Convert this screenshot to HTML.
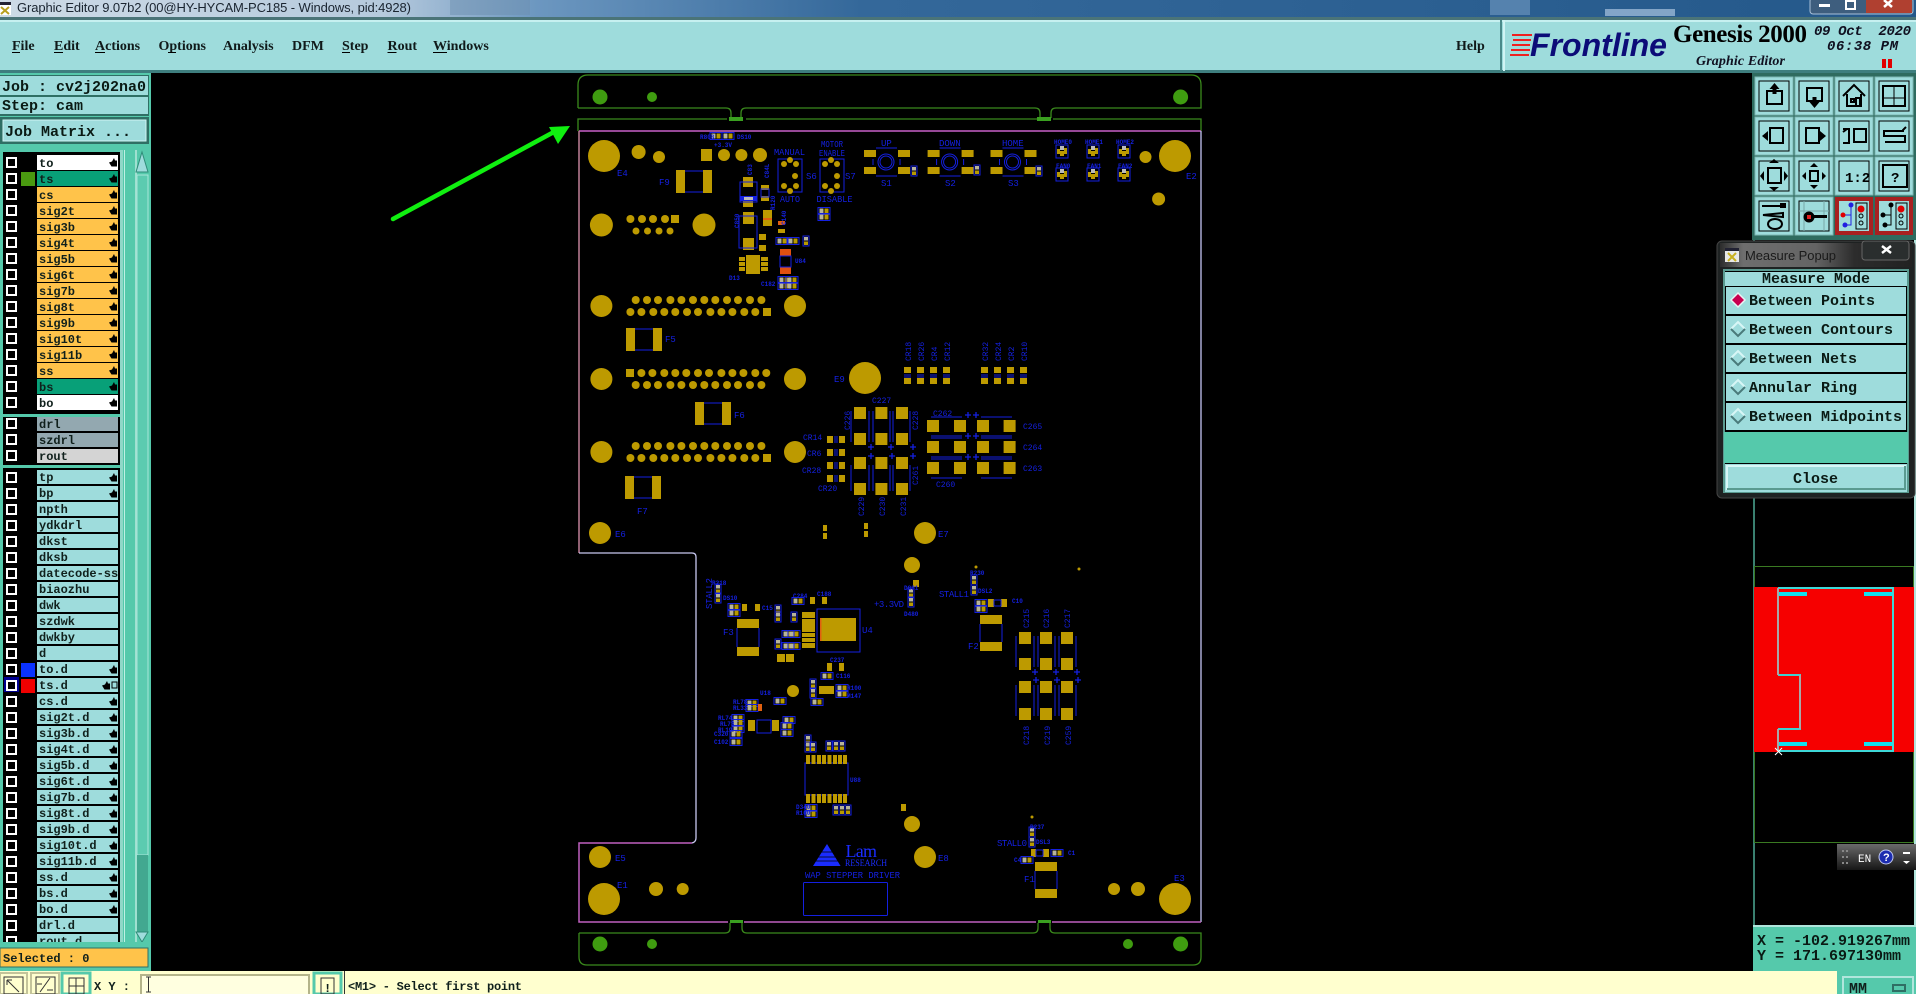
<!DOCTYPE html>
<html><head><meta charset="utf-8"><title>Graphic Editor</title>
<style>
html,body{margin:0;padding:0;background:#000;width:1916px;height:994px;overflow:hidden}
svg{display:block}
.m{font-family:"Liberation Mono",monospace;font-weight:bold;font-size:15px;fill:#0a1a14}
.l{font-family:"Liberation Mono",monospace;font-weight:bold;font-size:12px;fill:#10201c}
.s{font-family:"Liberation Serif",serif;font-weight:bold;font-size:14px;fill:#101a1a}
.b{font-family:"Liberation Mono",monospace;font-size:9px;fill:#1420e0}
.b8{font-size:8px}
.t{font-family:"Liberation Mono",monospace;font-size:6px;fill:#1420e0;font-weight:bold}
.g{fill:#bd9a00}
.o{fill:none;stroke:#3a8a1c;stroke-width:1.3}
.bl{fill:none;stroke:#1420e0;stroke-width:1}
.i{fill:none;stroke:#000;stroke-width:2}
.k{fill:#000}
</style></head><body>
<svg width="1916" height="994" viewBox="0 0 1916 994" xmlns="http://www.w3.org/2000/svg">
<defs>
<linearGradient id="tb" x1="0" x2="1" y1="0" y2="0"><stop offset="0" stop-color="#cddae6"/><stop offset=".2" stop-color="#b6cadd"/><stop offset=".28" stop-color="#6c97c0"/><stop offset=".45" stop-color="#34689a"/><stop offset="1" stop-color="#24588a"/></linearGradient>
<linearGradient id="pt" x1="0" x2="1" y1="0" y2="0"><stop offset="0" stop-color="#2c2c2c"/><stop offset=".12" stop-color="#6e6e6e"/><stop offset=".5" stop-color="#646464"/><stop offset=".7" stop-color="#2c2c2c"/><stop offset="1" stop-color="#222"/></linearGradient>
<linearGradient id="en" x1="0" x2="0" y1="0" y2="1"><stop offset="0" stop-color="#6a6a6a"/><stop offset="1" stop-color="#161616"/></linearGradient>
<g id="cb"><rect x="1" width="11" height="11" fill="#fff"/><rect x="3" y="2" width="7" height="7" fill="#000"/></g>
<path id="h" d="M0 4.5L3 3.5 5 0 6 2.5 8 2.5 8 8.5 2.5 8.5Z" fill="#000"/>
<g id="p"><rect x="-6" y="-3.5" width="12" height="7" class="bl"/><rect x="-4.5" y="-2.5" width="4" height="5" fill="#b8b49a"/><rect x=".5" y="-2.5" width="4" height="5" fill="#b89a00"/></g>
<g id="pv"><rect x="-3" y="-5" width="6" height="10" class="bl"/><rect x="-2" y="-4" width="4" height="3.5" fill="#b8b49a"/><rect x="-2" y=".5" width="4" height="3.5" fill="#b89a00"/></g>
<g id="sw"><rect x="-22" y="-12" width="12" height="7" class="g"/><rect x="12" y="-12" width="12" height="7" class="g"/><rect x="-22" y="5" width="12" height="7" class="g"/><rect x="12" y="5" width="12" height="7" class="g"/><circle r="8" class="bl"/><circle r="6" class="bl"/><path d="M-10-14H11M-10 14H11M-13-3V3M14-3V3" class="bl"/></g>
<g id="d1"><circle cx="635.7" r="4" class="g"/><circle cx="647" r="4" class="g"/><circle cx="658" r="4" class="g"/><circle cx="670.4" r="4" class="g"/><circle cx="681.4" r="4" class="g"/><circle cx="693" r="4" class="g"/><circle cx="704.3" r="4" class="g"/><circle cx="715.3" r="4" class="g"/><circle cx="727" r="4" class="g"/><circle cx="738" r="4" class="g"/><circle cx="750" r="4" class="g"/><circle cx="761.4" r="4" class="g"/></g>
<g id="d2"><circle cx="630.4" r="4" class="g"/><circle cx="641.4" r="4" class="g"/><circle cx="653.3" r="4" class="g"/><circle cx="664.3" r="4" class="g"/><circle cx="675.3" r="4" class="g"/><circle cx="687" r="4" class="g"/><circle cx="698" r="4" class="g"/><circle cx="710.4" r="4" class="g"/><circle cx="721.4" r="4" class="g"/><circle cx="732.4" r="4" class="g"/><circle cx="744.3" r="4" class="g"/><circle cx="755.3" r="4" class="g"/></g>
<rect id="cp" x="-6" y="-6" width="12" height="12" class="g"/>
<g id="q"><rect x="-2" y="-6" width="4" height="4" fill="#bbb"/><rect x="-2" y="-1" width="4" height="5" class="g"/><rect x="2" y="-4" width="3" height="6" fill="#b89a00"/><rect x="-5" y="-3" width="3" height="5" fill="#b89a00"/><rect x="-6" y="-7" width="12" height="13" class="bl" stroke-width=".5"/></g>
<g id="pl"><path d="M-3-2H3M0-5V1" stroke="#1420e0" stroke-width="1.3" fill="none"/></g>
</defs>

<rect width="1916" height="994" fill="#000"/>
<!-- title -->
<rect width="1916" height="17" fill="url(#tb)"/>
<rect x="450" y="0" width="80" height="15" fill="#6e8fb0" opacity=".5"/>
<rect x="1490" y="0" width="40" height="15" fill="#7fa5cc" opacity=".5"/><rect x="1605" y="9" width="70" height="7" fill="#a9c4e0" opacity=".7"/>
<rect x="0" y="2" width="11" height="13" fill="#fff"/><rect x="0" y="2" width="11" height="3" fill="#223"/><path d="M1 7L9 14M9 7L1 14" stroke="#b8a020" stroke-width="2"/>
<text x="17" y="12" font-family="Liberation Sans,sans-serif" font-size="13" fill="#1a2430" textLength="394">Graphic Editor 9.07b2 (00@HY-HYCAM-PC185 - Windows, pid:4928)</text>
<rect x="1810" y="-2" width="103" height="16" rx="3" fill="#3e5e7e" stroke="#a8c0d8"/><rect x="1866" y="-1" width="46" height="14" fill="#b04030"/>
<rect x="1819" y="4" width="11" height="3" fill="#fff"/><rect x="1846" y="1" width="9" height="8" fill="none" stroke="#fff" stroke-width="2"/><path d="M1884 0L1892 7M1892 0L1884 7" stroke="#fff" stroke-width="2.5"/>
<!-- menu -->
<rect y="17" width="1916" height="3" fill="#4a7478"/>
<rect y="20" width="1916" height="51" fill="#9edcdc"/>
<rect y="20" width="1916" height="2" fill="#c6f0f0"/>
<rect y="70" width="1916" height="3" fill="#3e7e7e"/>
<text class="s" x="12" y="50">File</text><rect x="12" y="52" width="8" height="1" fill="#000"/>
<text class="s" x="54" y="50">Edit</text><rect x="54" y="52" width="9" height="1" fill="#000"/>
<text class="s" x="95" y="50">Actions</text><rect x="95" y="52" width="10" height="1" fill="#000"/>
<text class="s" x="158.5" y="50">Options</text><rect x="168" y="52" width="8" height="1" fill="#000"/>
<text class="s" x="223" y="50">Analysis</text>
<text class="s" x="292" y="50">DFM</text>
<text class="s" x="342" y="50">Step</text><rect x="342" y="52" width="8" height="1" fill="#000"/>
<text class="s" x="387.5" y="50">Rout</text><rect x="387.5" y="52" width="9" height="1" fill="#000"/>
<text class="s" x="433" y="50">Windows</text><rect x="433" y="52" width="14" height="1" fill="#000"/>
<text class="s" x="1456" y="50">Help</text>
<rect x="1500" y="20" width="2" height="51" fill="#4a8a8a"/><rect x="1503" y="20" width="2" height="51" fill="#d0f4f4"/>
<!-- logo -->
<path d="M1512 35h20M1513 40h18M1512 45h18M1511 50h19M1510 55h19" stroke="#ee2020" stroke-width="2"/>
<text x="1530" y="56" font-family="Liberation Sans,sans-serif" font-style="italic" font-weight="bold" font-size="32" fill="#0c0c78" textLength="137" lengthAdjust="spacingAndGlyphs">Frontline</text>
<text x="1673" y="42" font-family="Liberation Serif,serif" font-weight="bold" font-size="25" fill="#000" textLength="134">Genesis 2000</text>
<text x="1696" y="65" font-family="Liberation Serif,serif" font-weight="bold" font-style="italic" font-size="14" fill="#101020" textLength="89">Graphic Editor</text>
<text x="1814" y="35" font-family="Liberation Mono,monospace" font-style="italic" font-weight="bold" font-size="14" fill="#101020" xml:space="preserve" textLength="97">09 Oct  2020</text>
<text x="1827" y="50" font-family="Liberation Mono,monospace" font-style="italic" font-weight="bold" font-size="14" fill="#101020" textLength="71">06:38 PM</text>
<rect x="1882" y="59" width="4" height="9" fill="#e00000"/><rect x="1888" y="59" width="4" height="9" fill="#e00000"/>

<!-- left panel -->
<rect x="0" y="73" width="151" height="899" fill="#55c9ab"/>
<rect x="0" y="75" width="149" height="21" fill="#2f6f64"/><rect x="0" y="76" width="148" height="19" fill="#9edcdc"/>
<rect x="0" y="96" width="149" height="20" fill="#2f6f64"/><rect x="0" y="97" width="148" height="17" fill="#9edcdc"/>
<rect x="0" y="117" width="149" height="27" fill="#2f6f64"/><rect x="3" y="120" width="143" height="21" fill="#9edcdc" stroke="#d0f4f4"/>
<text class="m" x="2" y="91">Job : cv2j202na0</text>
<text class="m" x="2" y="110">Step: cam</text>
<text class="m" x="5" y="136">Job Matrix ...</text>
<rect x="0" y="144" width="151" height="8" fill="#55c9ab"/>
<rect x="3" y="152" width="117" height="790" fill="#000"/>
<rect x="120" y="150" width="3" height="792" fill="#8fd8c8"/>
<rect x="124" y="150" width="1" height="792" fill="#c0f0e4"/>
<rect x="125" y="150" width="10" height="792" fill="#55c9ab"/>
<rect x="135" y="150" width="2" height="792" fill="#9fe0d0"/>
<rect x="137" y="150" width="11" height="792" fill="#55c9ab"/>
<rect x="137" y="175" width="11" height="680" fill="#5ccbb0" stroke="#a8e6da"/>
<rect x="137" y="855" width="11" height="78" fill="#42a890"/>
<path d="M142 152L148 172H136Z" fill="#9edcdc" stroke="#2f8c78"/><path d="M142 942L148 932H136Z" fill="#9edcdc" stroke="#2f8c78"/>
<rect x="3" y="414" width="117" height="3" fill="#55c9ab"/><rect x="3" y="465" width="117" height="3" fill="#55c9ab"/>

<!-- rows group 1 -->
<g fill="#ffc34a">
<rect x="37" y="155" width="81" height="15" fill="#fff"/><rect x="37" y="171" width="81" height="15" fill="#08a078"/>
<rect x="37" y="187" width="81" height="15"/><rect x="37" y="203" width="81" height="15"/><rect x="37" y="219" width="81" height="15"/><rect x="37" y="235" width="81" height="15"/><rect x="37" y="251" width="81" height="15"/><rect x="37" y="267" width="81" height="15"/><rect x="37" y="283" width="81" height="15"/><rect x="37" y="299" width="81" height="15"/><rect x="37" y="315" width="81" height="15"/><rect x="37" y="331" width="81" height="15"/><rect x="37" y="347" width="81" height="15"/><rect x="37" y="363" width="81" height="15"/>
<rect x="37" y="379" width="81" height="15" fill="#08a078"/><rect x="37" y="395" width="81" height="15" fill="#fff"/>
<rect x="37" y="417" width="81" height="14" fill="#93a8b0"/><rect x="37" y="433" width="81" height="14" fill="#93a8b0"/><rect x="37" y="449" width="81" height="14" fill="#d4d4d4"/>
</g>
<rect x="21" y="172" width="14" height="14" fill="#4a9a10"/>
<g class="l">
<text x="39" y="167">to</text><text x="39" y="183">ts</text><text x="39" y="199">cs</text><text x="39" y="215">sig2t</text><text x="39" y="231">sig3b</text><text x="39" y="247">sig4t</text><text x="39" y="263">sig5b</text><text x="39" y="279">sig6t</text><text x="39" y="295">sig7b</text><text x="39" y="311">sig8t</text><text x="39" y="327">sig9b</text><text x="39" y="343">sig10t</text><text x="39" y="359">sig11b</text><text x="39" y="375">ss</text><text x="39" y="391">bs</text><text x="39" y="407">bo</text>
<text x="39" y="428">drl</text><text x="39" y="444">szdrl</text><text x="39" y="460">rout</text>
</g>
<use href="#cb" x="5" y="157"/><use href="#cb" x="5" y="173"/><use href="#cb" x="5" y="189"/><use href="#cb" x="5" y="205"/><use href="#cb" x="5" y="221"/><use href="#cb" x="5" y="237"/><use href="#cb" x="5" y="253"/><use href="#cb" x="5" y="269"/><use href="#cb" x="5" y="285"/><use href="#cb" x="5" y="301"/><use href="#cb" x="5" y="317"/><use href="#cb" x="5" y="333"/><use href="#cb" x="5" y="349"/><use href="#cb" x="5" y="365"/><use href="#cb" x="5" y="381"/><use href="#cb" x="5" y="397"/>
<use href="#cb" x="5" y="418"/><use href="#cb" x="5" y="434"/><use href="#cb" x="5" y="450"/>
<use href="#h" x="109" y="158"/><use href="#h" x="109" y="174"/><use href="#h" x="109" y="190"/><use href="#h" x="109" y="206"/><use href="#h" x="109" y="222"/><use href="#h" x="109" y="238"/><use href="#h" x="109" y="254"/><use href="#h" x="109" y="270"/><use href="#h" x="109" y="286"/><use href="#h" x="109" y="302"/><use href="#h" x="109" y="318"/><use href="#h" x="109" y="334"/><use href="#h" x="109" y="350"/><use href="#h" x="109" y="366"/><use href="#h" x="109" y="382"/><use href="#h" x="109" y="398"/>

<!-- rows group 2 -->
<svg x="0" y="468" width="120" height="474" viewBox="0 468 120 474" overflow="hidden">
<g fill="#9edcdc">
<rect x="37" y="470" width="81" height="14"/><rect x="37" y="486" width="81" height="14"/><rect x="37" y="502" width="81" height="14"/><rect x="37" y="518" width="81" height="14"/><rect x="37" y="534" width="81" height="14"/><rect x="37" y="550" width="81" height="14"/><rect x="37" y="566" width="81" height="14"/><rect x="37" y="582" width="81" height="14"/><rect x="37" y="598" width="81" height="14"/><rect x="37" y="614" width="81" height="14"/><rect x="37" y="630" width="81" height="14"/><rect x="37" y="646" width="81" height="14"/><rect x="37" y="662" width="81" height="14"/><rect x="37" y="678" width="81" height="14"/><rect x="37" y="694" width="81" height="14"/><rect x="37" y="710" width="81" height="14"/><rect x="37" y="726" width="81" height="14"/><rect x="37" y="742" width="81" height="14"/><rect x="37" y="758" width="81" height="14"/><rect x="37" y="774" width="81" height="14"/><rect x="37" y="790" width="81" height="14"/><rect x="37" y="806" width="81" height="14"/><rect x="37" y="822" width="81" height="14"/><rect x="37" y="838" width="81" height="14"/><rect x="37" y="854" width="81" height="14"/><rect x="37" y="870" width="81" height="14"/><rect x="37" y="886" width="81" height="14"/><rect x="37" y="902" width="81" height="14"/><rect x="37" y="918" width="81" height="14"/><rect x="37" y="934" width="81" height="14"/>
</g>
<rect x="21" y="663" width="14" height="14" fill="#0a32ff"/><rect x="21" y="679" width="14" height="14" fill="#f00000"/>
<rect x="4" y="677" width="15" height="15" fill="#000090"/>
<g class="l">
<text x="39" y="481">tp</text><text x="39" y="497">bp</text><text x="39" y="513">npth</text><text x="39" y="529">ydkdrl</text><text x="39" y="545">dkst</text><text x="39" y="561">dksb</text><text x="39" y="577">datecode-ss</text><text x="39" y="593">biaozhu</text><text x="39" y="609">dwk</text><text x="39" y="625">szdwk</text><text x="39" y="641">dwkby</text><text x="39" y="657">d</text><text x="39" y="673">to.d</text><text x="39" y="689">ts.d</text><text x="39" y="705">cs.d</text><text x="39" y="721">sig2t.d</text><text x="39" y="737">sig3b.d</text><text x="39" y="753">sig4t.d</text><text x="39" y="769">sig5b.d</text><text x="39" y="785">sig6t.d</text><text x="39" y="801">sig7b.d</text><text x="39" y="817">sig8t.d</text><text x="39" y="833">sig9b.d</text><text x="39" y="849">sig10t.d</text><text x="39" y="865">sig11b.d</text><text x="39" y="881">ss.d</text><text x="39" y="897">bs.d</text><text x="39" y="913">bo.d</text><text x="39" y="929">drl.d</text><text x="39" y="945">rout.d</text>
</g>
<use href="#cb" x="5" y="472"/><use href="#cb" x="5" y="488"/><use href="#cb" x="5" y="504"/><use href="#cb" x="5" y="520"/><use href="#cb" x="5" y="536"/><use href="#cb" x="5" y="552"/><use href="#cb" x="5" y="568"/><use href="#cb" x="5" y="584"/><use href="#cb" x="5" y="600"/><use href="#cb" x="5" y="616"/><use href="#cb" x="5" y="632"/><use href="#cb" x="5" y="648"/><use href="#cb" x="5" y="664"/><use href="#cb" x="5" y="680"/><use href="#cb" x="5" y="696"/><use href="#cb" x="5" y="712"/><use href="#cb" x="5" y="728"/><use href="#cb" x="5" y="744"/><use href="#cb" x="5" y="760"/><use href="#cb" x="5" y="776"/><use href="#cb" x="5" y="792"/><use href="#cb" x="5" y="808"/><use href="#cb" x="5" y="824"/><use href="#cb" x="5" y="840"/><use href="#cb" x="5" y="856"/><use href="#cb" x="5" y="872"/><use href="#cb" x="5" y="888"/><use href="#cb" x="5" y="904"/><use href="#cb" x="5" y="920"/><use href="#cb" x="5" y="936"/>
<use href="#h" x="109" y="473"/><use href="#h" x="109" y="489"/><use href="#h" x="109" y="665"/><use href="#h" x="102" y="681"/><rect x="112" y="682" width="5" height="6" fill="none" stroke="#000"/><use href="#h" x="109" y="697"/><use href="#h" x="109" y="713"/><use href="#h" x="109" y="729"/><use href="#h" x="109" y="745"/><use href="#h" x="109" y="761"/><use href="#h" x="109" y="777"/><use href="#h" x="109" y="793"/><use href="#h" x="109" y="809"/><use href="#h" x="109" y="825"/><use href="#h" x="109" y="841"/><use href="#h" x="109" y="857"/><use href="#h" x="109" y="873"/><use href="#h" x="109" y="889"/><use href="#h" x="109" y="905"/>
</svg>
<rect x="0" y="942" width="151" height="29" fill="#55c9ab"/>
<rect x="0" y="948" width="148" height="19" fill="#ffc34a" stroke="#2f6f64"/>
<text class="l" x="3" y="962">Selected : 0</text>
<rect x="0" y="971" width="1838" height="23" fill="#ffffcf"/>

<!-- bottom toolbar -->
<rect x="0" y="973" width="27" height="21" fill="#ffffcf" stroke="#c4c49a" stroke-width="2"/><rect x="4" y="977" width="19" height="17" fill="none" stroke="#333"/><path d="M7 980L19 992M7 980h5M7 980v5" stroke="#333" fill="none"/>
<rect x="31" y="973" width="28" height="21" fill="#ffffcf" stroke="#c4c49a" stroke-width="2"/><rect x="36" y="977" width="19" height="17" fill="none" stroke="#333"/><path d="M40 992L50 978M42 984h-5M47 990h6" stroke="#333" fill="none"/>
<rect x="62" y="973" width="28" height="21" fill="#ffffcf" stroke="#55c9ab" stroke-width="3"/><rect x="69" y="978" width="15" height="16" fill="none" stroke="#333"/><path d="M69 986h15M76 978v16" stroke="#333"/>
<text class="l" x="94" y="990" xml:space="preserve">X Y :</text>
<rect x="141" y="975" width="168" height="20" fill="#ffffe0" stroke="#b4b48a" stroke-width="2"/><path d="M146 977h5M148.500 977v15M146 992h5" stroke="#333" fill="none"/>
<rect x="314" y="973" width="27" height="21" fill="#ffffcf" stroke="#55c9ab" stroke-width="3"/><rect x="321" y="978" width="13" height="16" fill="none" stroke="#333"/><text class="l" x="324" y="992">!</text>
<rect x="344" y="971" width="1" height="23" fill="#333"/>
<text class="l" x="348" y="990" textLength="174">&lt;M1&gt; - Select first point</text>

<!-- right bottom -->
<rect x="1837" y="971" width="79" height="23" fill="#55c9ab"/><rect x="1843" y="977" width="70" height="20" fill="#55c9ab" stroke="#b0e6dc" stroke-width="2"/>
<text class="l" x="1849" y="993" style="font-size:15px">MM</text><rect x="1893" y="985" width="12" height="6" fill="#55c9ab" stroke="#2f6f64" stroke-width="2"/>
<rect x="1753" y="73" width="2" height="852" fill="#3a8070"/><rect x="1914" y="240" width="2" height="731" fill="#b0e4dc"/>
<rect x="1753" y="925" width="163" height="46" fill="#55c9ab"/><rect x="1753" y="925" width="163" height="2" fill="#b0e6dc"/>
<text class="m" x="1757" y="945">X = -102.919267mm</text>
<text class="m" x="1757" y="960">Y = 171.697130mm</text>

<!-- preview -->
<rect x="1754.500" y="566.500" width="159" height="276" fill="none" stroke="#3a7a22"/>
<rect x="1754" y="587" width="160" height="165" fill="#f60000"/>
<path d="M1778 675H1800V729H1778" fill="none" stroke="#3ed0d0" stroke-width="2"/>
<path d="M1778 588H1893V751H1778" fill="none" stroke="#3ed8d8" stroke-width="2"/>
<path d="M1778 588V675M1800 675V729M1778 729V750" stroke="#a8a8a8" stroke-width="2" fill="none"/>
<rect x="1779" y="592" width="28" height="4" fill="#10e0f0"/><rect x="1864" y="592" width="28" height="4" fill="#10e0f0"/><rect x="1779" y="742" width="28" height="4" fill="#10e0f0"/><rect x="1864" y="742" width="28" height="4" fill="#10e0f0"/>
<path d="M1775 748L1782 755M1782 748L1775 755" stroke="#fff"/>
<rect x="1837" y="844" width="79" height="26" fill="url(#en)"/>
<g fill="#888"><rect x="1842" y="850" width="2" height="2"/><rect x="1846" y="850" width="2" height="2"/><rect x="1842" y="856" width="2" height="2"/><rect x="1846" y="856" width="2" height="2"/><rect x="1842" y="862" width="2" height="2"/><rect x="1846" y="862" width="2" height="2"/></g>
<text x="1858" y="862" font-family="Liberation Mono,monospace" font-size="11" fill="#fff">EN</text>
<circle cx="1886" cy="857" r="7" fill="#1c2cb0" stroke="#c0c8f0"/><text x="1883" y="861" font-family="Liberation Sans,sans-serif" font-size="11" font-weight="bold" fill="#fff">?</text>
<rect x="1903" y="852" width="7" height="2" fill="#fff"/><path d="M1903 861h7l-3.500 3z" fill="#fff"/>

<!-- toolbar -->
<rect x="1752" y="73" width="164" height="167" fill="#2f6b5f"/>
<g fill="#9edcdc" stroke="#7fb8b4">
<rect x="1755" y="77" width="38" height="38"/><rect x="1795" y="77" width="38" height="38"/><rect x="1835" y="77" width="38" height="38"/><rect x="1875" y="77" width="38" height="38"/>
<rect x="1755" y="117" width="38" height="38"/><rect x="1795" y="117" width="38" height="38"/><rect x="1835" y="117" width="38" height="38"/><rect x="1875" y="117" width="38" height="38"/>
<rect x="1755" y="157" width="38" height="38"/><rect x="1795" y="157" width="38" height="38"/><rect x="1835" y="157" width="38" height="38"/><rect x="1875" y="157" width="38" height="38"/>
<rect x="1755" y="197" width="38" height="38"/><rect x="1795" y="197" width="38" height="38"/>
</g>
<rect x="1835" y="197" width="38" height="38" fill="#a82020"/><rect x="1875" y="197" width="38" height="38" fill="#a82020"/>
<g fill="none" stroke="#000">
<rect x="1759" y="81" width="30" height="30"/><rect x="1799" y="81" width="30" height="30"/><rect x="1839" y="81" width="30" height="30"/><rect x="1879" y="81" width="30" height="30"/>
<rect x="1759" y="121" width="30" height="30"/><rect x="1799" y="121" width="30" height="30"/><rect x="1839" y="121" width="30" height="30"/><rect x="1879" y="121" width="30" height="30"/>
<rect x="1759" y="161" width="30" height="30"/><rect x="1799" y="161" width="30" height="30"/><rect x="1839" y="161" width="30" height="30"/><rect x="1879" y="161" width="30" height="30"/>
<rect x="1759" y="201" width="30" height="30"/><rect x="1799" y="201" width="30" height="30"/>
</g>
<rect x="1767" y="91" width="15" height="13" class="i"/><path d="M1774.500 83l5 6h-3v5h-4v-5h-3z" class="k"/>
<rect x="1807" y="88" width="15" height="13" class="i"/><path d="M1814.500 108l-5-6h3v-5h4v5h3z" class="k"/>
<path d="M1843 96l11-11 11 11M1847 94v12h14V94" class="i" stroke-width="1.5"/><rect x="1851" y="99" width="3" height="3" class="i" stroke-width="1"/><rect x="1856" y="98" width="4" height="8" class="i" stroke-width="1"/>
<rect x="1883" y="86" width="22" height="20" class="i"/><path d="M1883 98h22M1894 86v20" stroke="#000"/>
<rect x="1770" y="128" width="13" height="15" class="i"/><path d="M1762 136l6-5v10z" class="k"/>
<rect x="1806" y="128" width="13" height="15" class="i"/><path d="M1826 136l-6-5v10z" class="k"/>
<rect x="1854" y="129" width="12" height="13" class="i"/><path d="M1843 129h6v14h-6M1847 129l-4 3" class="i"/>
<path d="M1906 127l-3 3v1h-19v5h21v6h-20" class="i" stroke-width="1.500" fill="none"/>
<rect x="1768" y="168" width="13" height="15" class="i"/><path d="M1774 159l-5 4h10zM1774 191l-5-4h10zM1760 176l4-5v10zM1788 176l-4-5v10z" class="k"/>
<rect x="1810" y="171" width="8" height="10" class="i"/><path d="M1814 163l-4 4h8zM1814 189l-4-4h8zM1802 176l4-4v8zM1826 176l-4-4v8z" class="k"/>
<text x="1845" y="182" font-family="Liberation Mono,monospace" font-weight="bold" font-size="14" fill="#000">1:2</text>
<rect x="1883" y="165" width="24" height="22" class="i"/><text x="1891" y="182" font-family="Liberation Mono,monospace" font-weight="bold" font-size="14" fill="#000">?</text>
<path d="M1762 206h22M1763 215l20-2v4z" class="i" stroke-width="1.500"/><ellipse cx="1775" cy="224" rx="7" ry="5" class="i" stroke-width="1"/><rect x="1780" y="203" width="6" height="5" class="k"/>
<path d="M1804 201v30M1824 201v30M1799 211h30" stroke="#78a8a8"/><circle cx="1809" cy="217" r="5.500" class="k"/><rect x="1807" y="215" width="4" height="4" fill="#e02020"/><rect x="1814" y="215" width="13" height="3" class="k"/>
<rect x="1839" y="201" width="30" height="30" fill="#9edcdc"/><rect x="1879" y="201" width="30" height="30" fill="#9edcdc"/>
<rect x="1856" y="203" width="11" height="26" fill="none" stroke="#000"/><circle cx="1861" cy="209" r="3.500" fill="#e00000"/><circle cx="1861" cy="216" r="2" fill="none" stroke="#000"/><circle cx="1861" cy="223" r="2" fill="none" stroke="#000"/>
<path d="M1851 204V225H1846M1843 215H1851" stroke="#2020e0" fill="none"/><circle cx="1851" cy="205" r="2.500" fill="#2020e0"/><circle cx="1845" cy="225" r="2.500" fill="#2020e0"/><circle cx="1843" cy="215" r="2.500" fill="#e00000"/>
<rect x="1896" y="203" width="11" height="26" fill="none" stroke="#000"/><circle cx="1901" cy="209" r="3.500" fill="#e00000"/><circle cx="1901" cy="216" r="2" fill="none" stroke="#000"/><circle cx="1901" cy="223" r="2" fill="none" stroke="#000"/>
<path d="M1891 204V225H1886M1883 215H1891" stroke="#000" fill="none"/><circle cx="1891" cy="205" r="2.500"/><circle cx="1885" cy="225" r="2.500"/><circle cx="1883" cy="215" r="2.500"/>

<!-- popup -->
<rect x="1717" y="241" width="198" height="257" rx="5" fill="#1e2222" stroke="#444"/>
<rect x="1720" y="243" width="192" height="24" fill="url(#pt)"/>
<rect x="1725" y="248" width="14" height="14" fill="#e8e8e8"/><rect x="1725" y="248" width="14" height="3" fill="#223"/><path d="M1728 253L1736 261M1736 253L1728 261" stroke="#c8b020" stroke-width="2"/>
<text x="1745" y="260" font-family="Liberation Sans,sans-serif" font-size="13" fill="#1a1a1a" textLength="91">Measure Popup</text>
<rect x="1862" y="241" width="47" height="19" rx="3" fill="#2a2e2e" stroke="#666"/>
<path d="M1882 246L1891 253M1891 246L1882 253" stroke="#fff" stroke-width="2.500"/>
<rect x="1723" y="269" width="186" height="224" fill="#5a9a90"/>
<rect x="1725" y="271" width="182" height="221" fill="#000"/>
<rect x="1725" y="272" width="182" height="14" fill="#9edcdc"/>
<text class="m" x="1762" y="283">Measure Mode</text>
<g fill="#9edcdc"><rect x="1726" y="287" width="180" height="27"/><rect x="1726" y="316" width="180" height="27"/><rect x="1726" y="345" width="180" height="27"/><rect x="1726" y="374" width="180" height="27"/><rect x="1726" y="403" width="180" height="27"/></g>
<rect x="1724" y="432" width="184" height="31" fill="#55c9ab"/>
<rect x="1725" y="464" width="182" height="28" fill="#9edcdc"/>
<rect x="1727" y="466" width="178" height="23" fill="#9edcdc" stroke="#d8f6f6" stroke-width="2"/>
<path d="M1905 466v23h-178" stroke="#5a9a90" stroke-width="2" fill="none"/>
<path d="M1738 293l7 7-7 7-7-7z" fill="#c80050" stroke="#e8f4f4" stroke-width="1.500"/>
<g fill="none" stroke-width="2"><path d="M1731 329l7-7 7 7" stroke="#d8f6f6"/><path d="M1731 329l7 7 7-7" stroke="#4a7a7a"/><path d="M1731 358l7-7 7 7" stroke="#d8f6f6"/><path d="M1731 358l7 7 7-7" stroke="#4a7a7a"/><path d="M1731 387l7-7 7 7" stroke="#d8f6f6"/><path d="M1731 387l7 7 7-7" stroke="#4a7a7a"/><path d="M1731 416l7-7 7 7" stroke="#d8f6f6"/><path d="M1731 416l7 7 7-7" stroke="#4a7a7a"/></g>
<text class="m" x="1749" y="305">Between Points</text>
<text class="m" x="1749" y="334">Between Contours</text>
<text class="m" x="1749" y="363">Between Nets</text>
<text class="m" x="1749" y="392">Annular Ring</text>
<text class="m" x="1749" y="421">Between Midpoints</text>
<text class="m" x="1793" y="483">Close</text>

<!-- PCB outlines -->
<g class="o">
<path d="M578 108V85Q578 75 588 75H1191Q1201 75 1201 85V108H1056Q1051 108 1051 113V118M1040 118V113Q1040 108 1035 108H746Q741 108 741 113V118M731 118V113Q731 108 726 108H578"/>
<path d="M578 131V119H727M746 119H1037M1053 119H1201V131"/>
<path d="M579 933H725Q730 933 730 928V923M742 923V928Q742 933 747 933H1033Q1038 933 1038 928V923M1050 923V928Q1050 933 1055 933H1201V957Q1201 965 1193 965H587Q579 965 579 957V933"/>
</g>
<rect x="729" y="117" width="14" height="4" fill="#3aa020"/><rect x="1037" y="117" width="14" height="4" fill="#3aa020"/>
<rect x="730" y="920" width="13" height="3" fill="#3aa020"/><rect x="1038" y="920" width="13" height="3" fill="#3aa020"/>
<circle cx="600" cy="97" r="7.500" fill="#3f9c10"/><circle cx="652" cy="97" r="5" fill="#3f9c10"/><circle cx="1180.600" cy="97" r="7.500" fill="#3f9c10"/>
<circle cx="600" cy="944" r="7.500" fill="#3f9c10"/><circle cx="652" cy="944" r="5" fill="#3f9c10"/><circle cx="1128" cy="944" r="5" fill="#3f9c10"/><circle cx="1180.600" cy="944" r="7.500" fill="#3f9c10"/>
<path d="M579 131H1201" stroke="#c860c8" stroke-width="1.500" fill="none"/>
<path d="M1201 131V922" stroke="#c4c4f4" stroke-width="1.300" fill="none"/>
<path d="M579 131V553" stroke="#c08098" stroke-width="1.500" fill="none"/>
<path d="M579 553H692Q696 553 696 557V838Q696 842 692 843" stroke="#c8c8f0" stroke-width="1.300" fill="none"/>
<path d="M692 843H579V922H728M744 922H1036M1052 922H1201" stroke="#c060c0" stroke-width="1.500" fill="none"/>

<!-- arrow -->
<path d="M393 219L552 133" stroke="#10f010" stroke-width="4.500" stroke-linecap="round"/>
<path d="M570 126L549 127 558 144Z" fill="#10f010"/>

<!-- big pads -->
<g class="g">
<circle cx="604" cy="156" r="16"/><circle cx="638.600" cy="152" r="7"/><circle cx="659" cy="157" r="6"/><rect x="701" y="149" width="11" height="12"/><circle cx="724" cy="155" r="6"/><circle cx="741.400" cy="155" r="6"/><circle cx="760" cy="155" r="7"/>
<circle cx="1175" cy="156" r="16"/><circle cx="1145.500" cy="157" r="6"/><circle cx="1158.600" cy="199" r="6.500"/>
<circle cx="601.400" cy="225" r="11.500"/><circle cx="704" cy="225" r="11.500"/>
<circle cx="630.400" cy="219" r="4"/><circle cx="642" cy="219" r="4"/><circle cx="653" cy="219" r="4"/><circle cx="665" cy="219" r="4"/><rect x="671" y="215" width="8" height="8"/>
<circle cx="636" cy="231" r="3.500"/><circle cx="647.500" cy="231" r="3.500"/><circle cx="659" cy="231" r="3.500"/><circle cx="670" cy="231" r="3.500"/>
<circle cx="601.400" cy="306" r="11"/><circle cx="795" cy="306" r="11"/><circle cx="601.400" cy="379" r="11"/><circle cx="795" cy="379" r="11"/><circle cx="601.400" cy="452" r="11"/><circle cx="795" cy="452" r="11"/>
<circle cx="600" cy="533" r="11"/><circle cx="925" cy="533" r="11"/><circle cx="865" cy="378" r="16"/>
<circle cx="600" cy="857" r="11"/><circle cx="925" cy="857" r="11"/><circle cx="604" cy="899" r="16"/><circle cx="1175" cy="899" r="16"/>
<circle cx="656" cy="889" r="7"/><circle cx="682.700" cy="889" r="6"/><circle cx="1114" cy="889" r="6"/><circle cx="1138" cy="889" r="7"/>
<circle cx="912" cy="565" r="8"/><circle cx="912" cy="824" r="8"/><circle cx="793" cy="691" r="6"/>
<rect x="913" y="580" width="6" height="7"/><rect x="901" y="804" width="5" height="7"/>
<rect x="823" y="525" width="4" height="6"/><rect x="823" y="533" width="4" height="6"/><rect x="864" y="523" width="4" height="6"/><rect x="864" y="531" width="4" height="6"/>
<circle cx="976" cy="567" r="1.500"/><circle cx="1079" cy="569" r="1.500"/><circle cx="1032" cy="817" r="1.500"/>
</g>
<use href="#d1" y="300"/><use href="#d2" y="312"/><rect x="763" y="308" width="8" height="8" class="g"/>
<use href="#d2" x="11" y="373"/><rect x="626" y="369" width="8" height="8" class="g"/>
<use href="#d1" y="385"/>
<use href="#d1" y="446"/><use href="#d2" y="458"/><rect x="763" y="454" width="8" height="8" class="g"/>

<!-- fuses -->
<g class="g">
<rect x="676" y="170" width="9" height="23"/><rect x="703" y="170" width="9" height="23"/>
<rect x="626" y="328" width="9" height="23"/><rect x="653" y="328" width="9" height="23"/>
<rect x="695" y="402" width="9" height="23"/><rect x="722" y="402" width="9" height="23"/>
<rect x="625" y="476" width="9" height="23"/><rect x="652" y="476" width="9" height="23"/>
<rect x="980" y="615" width="22" height="9"/><rect x="980" y="642" width="22" height="9"/>
<rect x="737" y="619" width="22" height="9"/><rect x="737" y="647" width="22" height="9"/>
<rect x="1035" y="862" width="22" height="9"/><rect x="1035" y="889" width="22" height="9"/>
</g>
<path d="M685 171H703M685 192H703M635 329H653M635 350H653M704 403H722M704 424H722M634 477H652M634 498H652M980 624V642M1002 624V642M737 628V647M759 628V647M1035 871V889M1057 871V889" class="bl"/>

<!-- switches -->
<use href="#sw" x="886" y="162"/><use href="#sw" x="949.600" y="162"/><use href="#sw" x="1012.500" y="162"/>
<use href="#pv" x="914" y="171"/><use href="#pv" x="977" y="170"/><use href="#pv" x="1039" y="171"/>
<text class="b" x="881" y="146">UP</text><text class="b" x="939" y="146">DOWN</text><text class="b" x="1002" y="146">HOME</text>
<text class="b" x="881" y="186">S1</text><text class="b" x="945" y="186">S2</text><text class="b" x="1008" y="186">S3</text>
<rect x="778" y="159" width="24" height="33" class="bl"/><rect x="820" y="159" width="24" height="33" class="bl"/>
<g class="g"><circle cx="790" cy="160" r="3"/><circle cx="784" cy="164" r="3"/><circle cx="796" cy="164" r="3"/><circle cx="795" cy="176" r="3"/><circle cx="784" cy="186" r="3"/><circle cx="796" cy="186" r="3"/><circle cx="790" cy="191" r="3"/>
<circle cx="825" cy="164" r="3"/><circle cx="837" cy="164" r="3"/><circle cx="837" cy="176" r="3"/><circle cx="825" cy="186" r="3"/><circle cx="837" cy="186" r="3"/><circle cx="831" cy="191" r="3"/><circle cx="831" cy="160" r="3"/></g>
<text class="b" x="774" y="155" textLength="31" lengthAdjust="spacingAndGlyphs">MANUAL</text><text class="b" x="780" y="202" textLength="20" lengthAdjust="spacingAndGlyphs">AUTO</text>
<text class="b" x="821" y="147" textLength="22" lengthAdjust="spacingAndGlyphs">MOTOR</text><text class="b" x="819" y="156" textLength="26" lengthAdjust="spacingAndGlyphs">ENABLE</text><text class="b" x="816.500" y="202" textLength="36" lengthAdjust="spacingAndGlyphs">DISABLE</text>
<text class="b" x="806" y="179">S6</text><text class="b" x="845" y="179">S7</text>
<text class="b" x="617" y="176">E4</text><text class="b" x="1186" y="179">E2</text><text class="b" x="659" y="185">F9</text>
<text class="b" x="665" y="342">F5</text><text class="b" x="734" y="418">F6</text><text class="b" x="637" y="514">F7</text>
<text class="b" x="615" y="537">E6</text><text class="b" x="938" y="537">E7</text><text class="b" x="834" y="382">E9</text>
<text class="b" x="615" y="861">E5</text><text class="b" x="938" y="861">E8</text><text class="b" x="617" y="888">E1</text><text class="b" x="1174" y="881">E3</text>
<text class="b" x="723" y="635">F3</text><text class="b" x="968" y="649">F2</text><text class="b" x="1024" y="882">F1</text><text class="b" x="862" y="633">U4</text>
<text class="b" x="874" y="607" textLength="30">+3.3VD</text><text class="b" x="939" y="597" textLength="30">STALL1</text><text class="b" x="997" y="846" textLength="30">STALL0</text>
<text class="b" transform="translate(712,609) rotate(-90)" textLength="31">STALL2</text>
<!-- top right small -->
<use href="#q" x="1062" y="152"/><use href="#q" x="1093" y="152"/><use href="#q" x="1124" y="152"/><use href="#q" x="1062" y="175"/><use href="#q" x="1093" y="175"/><use href="#q" x="1124" y="175"/>
<text class="t" x="1054" y="144">HOME0</text><text class="t" x="1085" y="144">HOME1</text><text class="t" x="1116" y="144">HOME2</text><text class="t" x="1056" y="168">FAN0</text><text class="t" x="1087" y="168">FAN1</text><text class="t" x="1118" y="168">FAN2</text>
<!-- cluster top -->
<g class="g">
<rect x="743" y="177" width="10" height="10"/><rect x="743" y="197" width="10" height="10"/><rect x="761" y="185" width="8" height="5"/><rect x="761" y="196" width="8" height="5"/>
<rect x="743" y="212" width="11" height="12"/><rect x="743" y="238" width="11" height="12"/><rect x="763" y="210" width="9" height="16"/><rect x="759" y="234" width="7" height="6"/><rect x="759" y="245" width="7" height="6"/>
<rect x="778" y="229" width="7" height="4"/><rect x="746" y="255" width="14" height="19"/>
<rect x="739" y="257" width="6" height="4"/><rect x="739" y="262" width="6" height="4"/><rect x="739" y="267" width="6" height="4"/><rect x="761" y="257" width="7" height="4"/><rect x="761" y="262" width="7" height="4"/><rect x="761" y="267" width="7" height="4"/>
</g>
<rect x="778" y="221" width="7" height="4" fill="#e06010"/><rect x="763" y="218" width="9" height="2" fill="#e06010"/>
<rect x="740" y="182" width="17" height="20" class="bl"/><rect x="740" y="196" width="17" height="5" fill="#1420e0"/><rect x="744" y="197" width="9" height="3" fill="#bbb"/>
<rect x="739" y="216" width="18" height="32" class="bl"/><rect x="761" y="189" width="8" height="8" class="bl"/>
<rect x="780" y="249" width="11" height="7" fill="#e05010"/><rect x="780" y="267" width="11" height="7" fill="#e05010"/><rect x="780" y="256" width="11" height="11" class="bl"/>
<use href="#p" x="782" y="241"/><use href="#p" x="793" y="241"/><use href="#pv" x="806" y="241"/><use href="#p" x="784" y="280"/><use href="#p" x="792" y="280"/><use href="#p" x="784" y="286"/><use href="#p" x="792" y="286"/><use href="#p" x="824" y="211"/><use href="#p" x="824" y="217"/><use href="#p" x="716" y="136"/><use href="#p" x="728" y="136"/>
<text class="t" x="700" y="139">R808</text><text class="t" x="737" y="139">DS10</text><text class="t" x="714" y="147">+3.3V</text><text class="t" x="729" y="280">D13</text><text class="t" x="795" y="263">U84</text><text class="t" x="761" y="286">C182</text>
<text class="t" transform="translate(752,175) rotate(-90)">C83</text><text class="t" transform="translate(769,178) rotate(-90)">C84L</text><text class="t" transform="translate(739,228) rotate(-90)">C850</text><text class="t" transform="translate(775,210) rotate(-90)">R120</text><text class="t" transform="translate(786,225) rotate(-90)">C140</text>
<!-- CR rows -->
<g class="g"><rect x="904" y="367" width="7" height="6"/><rect x="917" y="367" width="7" height="6"/><rect x="930" y="367" width="7" height="6"/><rect x="943" y="367" width="7" height="6"/><rect x="981" y="367" width="7" height="6"/><rect x="994" y="367" width="7" height="6"/><rect x="1007" y="367" width="7" height="6"/><rect x="1020" y="367" width="7" height="6"/>
<rect x="904" y="378" width="7" height="6"/><rect x="917" y="378" width="7" height="6"/><rect x="930" y="378" width="7" height="6"/><rect x="943" y="378" width="7" height="6"/><rect x="981" y="378" width="7" height="6"/><rect x="994" y="378" width="7" height="6"/><rect x="1007" y="378" width="7" height="6"/><rect x="1020" y="378" width="7" height="6"/></g>
<path d="M904 375h7M904 377h7M917 375h7M917 377h7M930 375h7M930 377h7M943 375h7M943 377h7M981 375h7M981 377h7M994 375h7M994 377h7M1007 375h7M1007 377h7M1020 375h7M1020 377h7" class="bl"/>
<g class="b b8"><text transform="translate(911,361) rotate(-90)">CR18</text><text transform="translate(924,361) rotate(-90)">CR26</text><text transform="translate(937,361) rotate(-90)">CR4</text><text transform="translate(950,361) rotate(-90)">CR12</text><text transform="translate(988,361) rotate(-90)">CR32</text><text transform="translate(1001,361) rotate(-90)">CR24</text><text transform="translate(1014,361) rotate(-90)">CR2</text><text transform="translate(1027,361) rotate(-90)">CR10</text></g>
<!-- cap group 1 -->
<use href="#cp" x="860" y="413"/><use href="#cp" x="881.400" y="413"/><use href="#cp" x="902" y="413"/>
<use href="#cp" x="860" y="439"/><use href="#cp" x="881.400" y="439"/><use href="#cp" x="902" y="439"/>
<use href="#cp" x="860" y="463"/><use href="#cp" x="881.400" y="463"/><use href="#cp" x="902" y="463"/>
<use href="#cp" x="860" y="489"/><use href="#cp" x="881.400" y="489"/><use href="#cp" x="902" y="489"/>
<path d="M851 411V442M869 411V442M873 411V442M890 411V442M893 411V442M910 411V442M851 465V491M869 465V491M873 465V491M890 465V491M893 465V491M910 465V491" class="bl"/>
<use href="#pl" x="871" y="449"/><use href="#pl" x="891" y="449"/><use href="#pl" x="913" y="449"/><use href="#pl" x="871" y="458"/><use href="#pl" x="892" y="458"/><use href="#pl" x="913" y="458"/>
<text class="b b8" x="872" y="403">C227</text><text class="b b8" transform="translate(850,430) rotate(-90)">C226</text><text class="b b8" transform="translate(918,430) rotate(-90)">C228</text><text class="b b8" transform="translate(918,485) rotate(-90)">C261</text>
<text class="b b8" transform="translate(864,516) rotate(-90)">C229</text><text class="b b8" transform="translate(885,516) rotate(-90)">C230</text><text class="b b8" transform="translate(906,516) rotate(-90)">C231</text>
<!-- CR small -->
<g class="g"><rect x="827" y="436" width="6" height="7"/><rect x="839" y="436" width="6" height="7"/><rect x="827" y="449" width="6" height="7"/><rect x="839" y="449" width="6" height="7"/><rect x="827" y="462" width="6" height="7"/><rect x="839" y="462" width="6" height="7"/><rect x="827" y="475" width="6" height="7"/><rect x="839" y="475" width="6" height="7"/></g>
<path d="M835 436v7M837 436v7M835 449v7M837 449v7M835 462v7M837 462v7M835 475v7M837 475v7" class="bl"/>
<text class="b b8" x="803" y="440">CR14</text><text class="b b8" x="807" y="456">CR6</text><text class="b b8" x="802" y="473">CR28</text><text class="b b8" x="818" y="491">CR20</text>
<!-- cap group 2 -->
<use href="#cp" x="933" y="426"/><use href="#cp" x="960" y="426"/><use href="#cp" x="983" y="426"/><use href="#cp" x="1009.600" y="426"/>
<use href="#cp" x="933" y="447"/><use href="#cp" x="960" y="447"/><use href="#cp" x="983" y="447"/><use href="#cp" x="1009.600" y="447"/>
<use href="#cp" x="933" y="468"/><use href="#cp" x="960" y="468"/><use href="#cp" x="983" y="468"/><use href="#cp" x="1009.600" y="468"/>
<path d="M931 417H962M981 417H1012M931 436H962M981 436H1012M931 438H962M981 438H1012M931 457H962M981 457H1012M931 459H962M981 459H1012M931 478H962M981 478H1012" class="bl"/>
<use href="#pl" x="968" y="417"/><use href="#pl" x="976" y="417"/><use href="#pl" x="968" y="438"/><use href="#pl" x="976" y="438"/><use href="#pl" x="968" y="459"/><use href="#pl" x="976" y="459"/>
<text class="b b8" x="933" y="416">C262</text><text class="b b8" x="936" y="487">C260</text><text class="b b8" x="1023" y="429">C265</text><text class="b b8" x="1023" y="450">C264</text><text class="b b8" x="1023" y="471">C263</text>
<!-- cap group 3 -->
<use href="#cp" x="1025" y="638"/><use href="#cp" x="1046" y="638"/><use href="#cp" x="1067" y="638"/>
<use href="#cp" x="1025" y="664"/><use href="#cp" x="1046" y="664"/><use href="#cp" x="1067" y="664"/>
<use href="#cp" x="1025" y="687"/><use href="#cp" x="1046" y="687"/><use href="#cp" x="1067" y="687"/>
<use href="#cp" x="1025" y="714"/><use href="#cp" x="1046" y="714"/><use href="#cp" x="1067" y="714"/>
<path d="M1016 636V667M1034 636V667M1038 636V667M1055 636V667M1059 636V667M1076 636V667M1016 685V716M1034 685V716M1038 685V716M1055 685V716M1059 685V716M1076 685V716" class="bl"/>
<use href="#pl" x="1035" y="674"/><use href="#pl" x="1056" y="674"/><use href="#pl" x="1077" y="674"/><use href="#pl" x="1036" y="682"/><use href="#pl" x="1057" y="682"/><use href="#pl" x="1078" y="682"/>
<text class="b b8" transform="translate(1029,628) rotate(-90)">C215</text><text class="b b8" transform="translate(1049,628) rotate(-90)">C216</text><text class="b b8" transform="translate(1070,628) rotate(-90)">C217</text>
<text class="b b8" transform="translate(1029,745) rotate(-90)">C218</text><text class="b b8" transform="translate(1050,745) rotate(-90)">C219</text><text class="b b8" transform="translate(1071,745) rotate(-90)">C259</text>
<!-- lower cluster -->
<use href="#pv" x="718" y="589"/><use href="#pv" x="718" y="598"/><use href="#p" x="734" y="607"/><use href="#p" x="734" y="613"/><use href="#pv" x="778" y="610"/><use href="#pv" x="778" y="617"/><use href="#p" x="798" y="601"/>
<rect x="742" y="604" width="5" height="7" class="g"/><rect x="755" y="604" width="5" height="7" class="g"/><rect x="810" y="597" width="5" height="7" class="g"/><rect x="822" y="597" width="5" height="7" class="g"/>
<use href="#pv" x="794" y="617"/><use href="#p" x="788" y="634"/><use href="#p" x="794" y="634"/><use href="#p" x="788" y="646"/><use href="#p" x="794" y="646"/><use href="#pv" x="778" y="644"/>
<rect x="777" y="654" width="8" height="8" class="g"/><rect x="786" y="654" width="8" height="8" class="g"/>
<rect x="827" y="663" width="5" height="8" class="g"/><rect x="839" y="663" width="5" height="8" class="g"/><use href="#p" x="827" y="676"/><use href="#pv" x="813" y="684"/><use href="#pv" x="813" y="693"/>
<rect x="819" y="686" width="15" height="8" class="g"/><use href="#p" x="842" y="688"/><use href="#p" x="842" y="694"/><use href="#p" x="817" y="702"/>
<use href="#p" x="752" y="703"/><use href="#p" x="752" y="708"/><rect x="758" y="704" width="4" height="7" fill="#e06010"/><use href="#p" x="780" y="701"/>
<rect x="748" y="720" width="7" height="11" class="g"/><rect x="772" y="720" width="7" height="11" class="g"/><rect x="757" y="720" width="14" height="13" class="bl"/>
<use href="#p" x="789" y="720"/><use href="#p" x="787" y="726"/><use href="#p" x="787" y="733"/><use href="#p" x="738" y="718"/><use href="#p" x="738" y="723"/><use href="#p" x="738" y="729"/><use href="#p" x="736" y="734"/><use href="#p" x="736" y="742"/>
<use href="#pv" x="808" y="740"/><use href="#pv" x="808" y="747"/><use href="#pv" x="813" y="747"/><use href="#pv" x="829" y="746"/><use href="#pv" x="836" y="746"/><use href="#pv" x="842" y="746"/>
<rect x="805" y="763" width="43" height="32" class="bl"/>
<g class="g"><rect x="806" y="755" width="4" height="9"/><rect x="811.500" y="755" width="4" height="9"/><rect x="817" y="755" width="4" height="9"/><rect x="822" y="755" width="4" height="9"/><rect x="827.500" y="755" width="4" height="9"/><rect x="833" y="755" width="4" height="9"/><rect x="838" y="755" width="4" height="9"/><rect x="843" y="755" width="4" height="9"/>
<rect x="806" y="794" width="4" height="9"/><rect x="811.500" y="794" width="4" height="9"/><rect x="817" y="794" width="4" height="9"/><rect x="822" y="794" width="4" height="9"/><rect x="827.500" y="794" width="4" height="9"/><rect x="833" y="794" width="4" height="9"/><rect x="838" y="794" width="4" height="9"/><rect x="843" y="794" width="4" height="9"/></g>
<use href="#p" x="811" y="808"/><use href="#p" x="811" y="814"/><use href="#pv" x="836" y="810"/><use href="#pv" x="842" y="810"/><use href="#pv" x="848" y="810"/>
<rect x="817" y="609" width="43" height="43" class="bl" stroke-width="1.500"/><rect x="820" y="618" width="36" height="23" class="g"/><rect x="820" y="618" width="1.500" height="23" fill="#e06010"/>
<g class="g"><rect x="802" y="612" width="13" height="6"/><rect x="802" y="619" width="13" height="13"/><rect x="802" y="633" width="13" height="4"/><rect x="802" y="638" width="13" height="4"/><rect x="802" y="643" width="13" height="5"/></g>
<use href="#pv" x="911" y="593"/><use href="#pv" x="911" y="602"/><use href="#pv" x="974" y="580"/><use href="#pv" x="974" y="590"/><use href="#p" x="981" y="603"/><use href="#p" x="981" y="609"/>
<rect x="988" y="599" width="6" height="8" class="g"/><rect x="1001" y="599" width="6" height="8" class="g"/><rect x="994" y="600" width="7" height="6" class="bl"/>
<use href="#pv" x="1032" y="832"/><use href="#pv" x="1032" y="842"/><rect x="1031" y="849" width="5" height="8" class="g"/><rect x="1043" y="849" width="6" height="8" class="g"/><rect x="1036" y="850" width="7" height="6" class="bl"/>
<use href="#p" x="1057" y="853"/><use href="#p" x="1027" y="860"/>
<text class="t" x="712" y="585">R218</text><text class="t" x="723" y="600">DS10</text><text class="t" x="762" y="610">C15</text><text class="t" x="793" y="598">C284</text><text class="t" x="817" y="596">C188</text><text class="t" x="830" y="662">C237</text><text class="t" x="836" y="678">C116</text><text class="t" x="847" y="690">R100</text><text class="t" x="847" y="698">M147</text><text class="t" x="760" y="695">U18</text><text class="t" x="733" y="704">RL78</text><text class="t" x="733" y="710">RL33</text><text class="t" x="718" y="720">RL74</text><text class="t" x="720" y="726">RL73</text><text class="t" x="718" y="732">RL19</text><text class="t" x="714" y="736">C320</text><text class="t" x="714" y="744">C102</text><text class="t" x="850" y="782">U88</text><text class="t" x="796" y="809">D340</text><text class="t" x="796" y="815">R100</text><text class="t" x="904" y="590">D881</text><text class="t" x="904" y="616">D480</text><text class="t" x="970" y="575">R230</text><text class="t" x="978" y="593">DSL2</text><text class="t" x="1012" y="603">C10</text><text class="t" x="1030" y="829">R237</text><text class="t" x="1036" y="844">DSL3</text><text class="t" x="1068" y="855">C1</text><text class="t" x="1014" y="862">C4</text>
<!-- Lam logo -->
<path d="M827 844L840.600 866H813Z" fill="#1a2cff"/>
<path d="M813 861H841M815 857H839M819 852H835" stroke="#000" stroke-width=".7"/>
<text x="845.500" y="857" font-family="Liberation Serif,serif" font-size="18" fill="#1a2cff" textLength="31.500">Lam</text>
<text x="845" y="866" font-family="Liberation Serif,serif" font-size="9.500" fill="#1a2cff" textLength="42" lengthAdjust="spacingAndGlyphs">RESEARCH</text>
<text class="b" x="805" y="878" textLength="95" lengthAdjust="spacingAndGlyphs">WAP STEPPER DRIVER</text>
<rect x="803.500" y="882.500" width="84" height="33" rx="1" class="bl"/>
</svg>
</body></html>
